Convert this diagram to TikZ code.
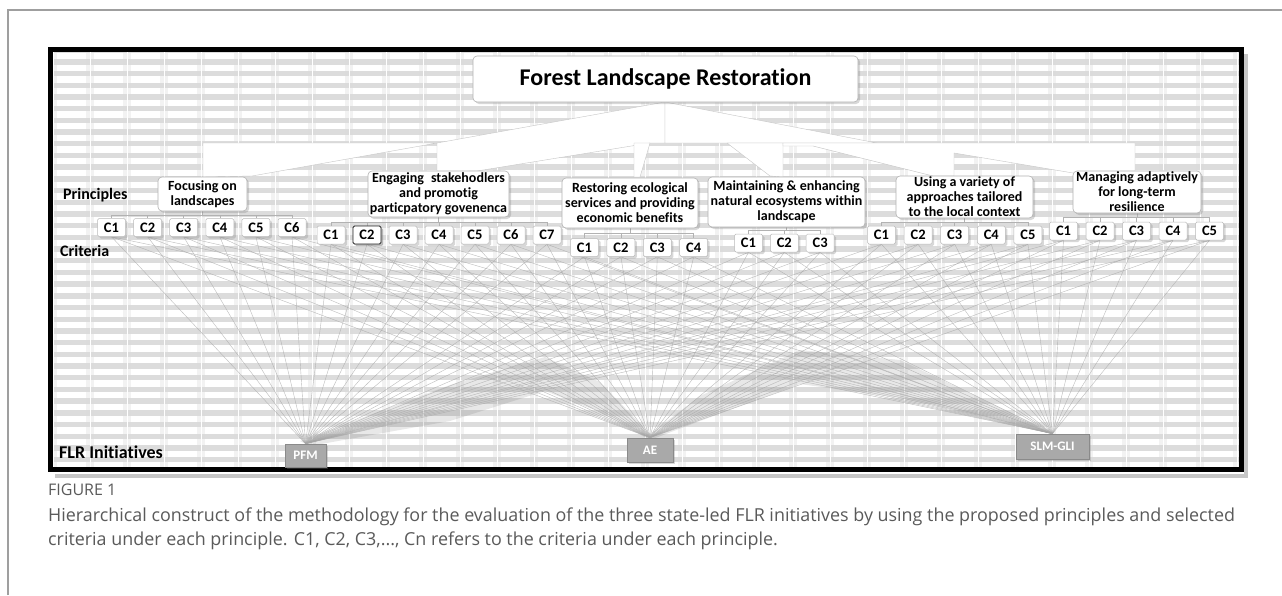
\documentclass[tikz,border=0pt]{standalone}
\usepackage{fontspec}
\setmainfont{Carlito}[Ligatures=NoCommon]
\newfontfamily\capfont{Open Sans}
\usetikzlibrary{shadows}
\definecolor{capgray}{HTML}{5A5A5A}
\definecolor{bggray}{HTML}{DCDCDC}
\definecolor{inifill}{HTML}{A9A9A9}
\definecolor{iniline}{HTML}{8A8A8A}
\pgfdeclarelayer{bg}
\pgfdeclarelayer{mesh}
\pgfsetlayers{bg,mesh,main}
\begin{document}
\begin{tikzpicture}[x=1pt,y=-1pt,
  shd/.style={drop shadow={shadow xshift=2pt,shadow yshift=-2pt,opacity=.3}},
  tbox/.style={draw=gray!60, fill=white, rounded corners=4pt, line width=.6pt, inner sep=0pt,
    font=\bfseries\fontsize{24}{26}\selectfont, shd},
  pbox/.style={draw=gray!60, fill=white, rounded corners=4pt, line width=.6pt, align=center, inner sep=0pt,
    font=\bfseries\fontsize{14}{15}\selectfont, shd},
  cbox/.style={draw=gray!55, fill=white, rounded corners=1.5pt, line width=.5pt, minimum width=28pt,
    minimum height=18pt, inner sep=0pt, font=\bfseries\fontsize{14.5}{15}\selectfont, shd},
  ibox/.style={draw=iniline, fill=inifill, line width=.7pt, inner sep=0pt, text=white,
    font=\bfseries\fontsize{13}{13}\selectfont, shd},
  lbl/.style={font=\bfseries\fontsize{16}{16}\selectfont, anchor=west, inner sep=0pt},
  meshline/.style={gray!70, line width=.4pt, opacity=.75},
  subconn/.style={gray!60, line width=.5pt},
  wedge/.style={fill=white, draw=gray!45, line width=.4pt, line join=round}
]
\useasboundingbox (0,0) rectangle (1282,595);

\begin{pgfonlayer}{bg}
\fill[white] (0,0) rectangle (1282,595);
% outer page frame
\draw[gray!75, line width=1.3pt] (8,595) -- (8,10) -- (1282,10);
% diagram frame shadow
\fill[gray!45] (55,474) rectangle (1246,478);
\fill[gray!45] (1244,54) rectangle (1248,478);
% background texture
\fill[bggray] (50,49) rectangle (1242,470);
\begin{scope}
  \clip (50,49) rectangle (1242,470);
  \foreach \k in {0,...,36} {
    \draw[white, line width=6.3pt] (50,{56+11.7*\k}) -- (1242,{56+11.7*\k});
  }
  \foreach \k in {0,...,32} {
    \draw[gray!30, line width=8pt, opacity=.33] ({53+37*\k},49) -- ({53+37*\k},470);
    \draw[white, line width=.7pt] ({53+37*\k},49) -- ({53+37*\k},470);
  }
  % darker shadow band of the connector mesh
  \fill[black, opacity=.09] (300,441) -- (450,385) -- (545,357) -- (600,382) -- (650,434)
     -- (700,396) -- (800,350) -- (900,360) -- (1052,432)
     -- (900,398) -- (800,384) -- (700,421) -- (650,440) -- (600,412) -- (545,391) -- (450,421) -- (310,446) -- cycle;
\end{scope}
\end{pgfonlayer}

% diagram frame
\draw[black, line width=5pt] (50.5,49.5) rectangle (1241.5,469.5);

% connectors from the title to the principles (white ribbons)
\draw[wedge] (203,143) -- (437,143) -- (252,176) -- (203,177) -- cycle;
\draw[wedge] (437,143) -- (665,102) -- (665,143) -- (650,143) -- (477,171) -- (437,172) -- cycle;
\draw[wedge] (665,102) -- (877,143) -- (665,143) -- cycle;
\draw[wedge] (634,143) -- (650,143) -- (640,177) -- (634,177) -- cycle;
\draw[wedge] (727,143) -- (783,143) -- (783,177) -- (770,176) -- cycle;
\draw[wedge] (783,143) -- (1135,143) -- (1135,173) -- (1073,173) -- (954,153) -- (954,176)
   -- (933,176) -- (813,146) -- (783,146) -- cycle;

% title
\node[tbox, minimum width=385pt, minimum height=46pt] (title) at (665.5,79) {Forest Landscape Restoration};

% principles
\node[pbox, minimum width=89pt, minimum height=34pt] (p1) at (202.5,194) {Focusing on\\landscapes};
\node[pbox, minimum width=141pt, minimum height=46pt] (p2) at (438.5,194) {Engaging\enspace stakehodlers\\and promotig\\particpatory govenenca};
\node[pbox, minimum width=136pt, minimum height=50pt] (p3) at (630,203) {Restoring ecological\\services and providing\\economic benefits};
\node[pbox, minimum width=157pt, minimum height=50pt] (p4) at (786.5,202) {Maintaining \& enhancing\\natural ecosystems within\\landscape};
\node[pbox, minimum width=137pt, minimum height=42pt] (p5) at (964.5,197) {Using a variety of\\approaches tailored\\to the local context};
\node[pbox, minimum width=128pt, minimum height=42pt] (p6) at (1137,192) {Managing adaptively\\for long-term\\resilience};

% side labels
\node[lbl] (lprin) at (63,195) {Principles};
\node[lbl] (lcrit) at (60,251) {Criteria};
\node[lbl, font=\bfseries\fontsize{18}{18}\selectfont] (linit) at (59,452) {FLR Initiatives};

% initiatives
\node[ibox, minimum width=41pt, minimum height=23pt] (pfm) at (305.5,455.5) {PFM};
\node[ibox, minimum width=46pt, minimum height=24pt] (ae) at (650,450) {AE};
\node[ibox, minimum width=73pt, minimum height=25pt] (slm) at (1052.5,446.5) {SLM-GLI};

% criteria
\foreach \g/\n/\xa/\dx/\yc in {1/6/111.5/36.1/227.5, 2/7/331/36.0/235, 3/4/584.5/36.4/247.5,
                                4/3/748.5/35.8/243, 5/5/881.5/36.6/235, 6/5/1063.5/36.5/231} {
  \foreach \i in {1,...,\n} {
    \node[cbox] (c\g-\i) at ({\xa+(\i-1)*\dx},\yc) {C\i};
  }
}
\node[cbox, draw=black!85, line width=.8pt] at (c2-2) {C2};

% connectors principle -> criteria and criteria -> initiatives
\begin{pgfonlayer}{mesh}
\foreach \g/\n/\drop in {1/6/3.5, 2/7/5, 3/4/5, 4/3/3, 5/5/4, 6/5/4} {
  \foreach \i in {1,...,\n} {
    \draw[subconn] (p\g.south) -- ++(0,\drop) -| (c\g-\i.north);
    \foreach \t in {pfm,ae,slm} {
      \draw[meshline] (c\g-\i.south) -- (\t.north);
    }
  }
}
\end{pgfonlayer}

% caption
\node[anchor=west, inner sep=0pt, text=capgray, font=\capfont\fontsize{16}{16}\selectfont] (fig) at (48,490) {FIGURE 1};
\node[anchor=north west, align=left, inner sep=0pt, text=capgray, font=\capfont\fontsize{17.9}{24}\selectfont] (cap) at (48,508)
 {Hierarchical construct of the methodology for the evaluation of the three state-led FLR initiatives by using the proposed principles and selected\\
  criteria under each principle. C1, C2, C3,..., Cn refers to the criteria under each principle.};
\end{tikzpicture}
\end{document}
